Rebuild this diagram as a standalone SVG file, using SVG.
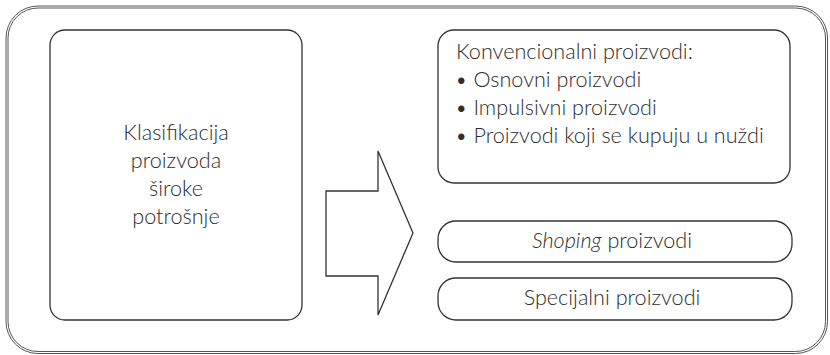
<svg xmlns="http://www.w3.org/2000/svg" width="830" height="355" viewBox="0 0 830 355">
<style>
.frame{fill:none;stroke:#555;stroke-width:1}
.box{fill:#fff;stroke:#333;stroke-width:1.3}
.t{font-family:Lato,"Open Sans",sans-serif;font-weight:300;font-size:21.6px;fill:#2e2e2e}
.c{text-anchor:middle}
</style>
<rect width="830" height="355" fill="#fff"/>
<g id="frame">
<rect class="frame" x="6" y="6" width="821.5" height="347.5" rx="32"/>
<rect class="frame" x="8" y="8" width="817.5" height="343.5" rx="30"/>
</g>
<g id="node-left">
<rect class="box" x="50" y="30" width="252" height="290" rx="15"/>
<text class="t c" x="176" y="140">Klasifikacija</text>
<text class="t c" x="176" y="168">proizvoda</text>
<text class="t c" x="176" y="196">široke</text>
<text class="t c" x="176" y="224">potrošnje</text>
</g>
<g id="connectors">
<path class="box" d="M326,191 H378 V151 L413,233 L378,315 V276 H326 Z"/>
</g>
<g id="node-konv">
<rect class="box" x="438" y="30" width="352" height="153" rx="16"/>
<text class="t" x="456" y="59">Konvencionalni proizvodi:</text>
<text class="t" x="455" y="87">• Osnovni proizvodi</text>
<text class="t" x="455" y="115">• Impulsivni proizvodi</text>
<text class="t" x="455" y="143">• Proizvodi koji se kupuju u nuždi</text>
</g>
<g id="node-shoping">
<rect class="box" x="438" y="221" width="354" height="41" rx="18"/>
<text class="t c" x="612" y="248"><tspan font-style="italic">Shoping</tspan> proizvodi</text>
</g>
<g id="node-specijalni">
<rect class="box" x="438" y="278" width="354" height="42" rx="18"/>
<text class="t c" x="612" y="305">Specijalni proizvodi</text>
</g>
</svg>
